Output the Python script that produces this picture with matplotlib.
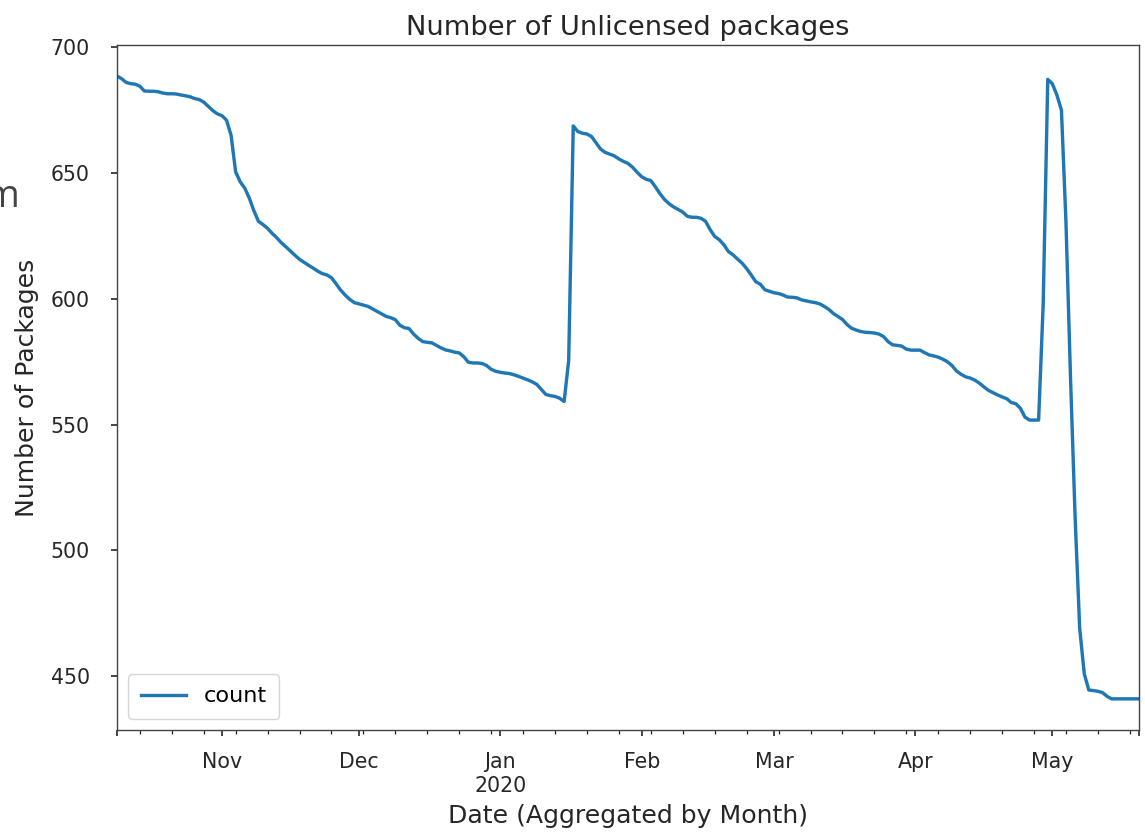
import matplotlib
matplotlib.use("Agg")
import matplotlib.pyplot as plt
import matplotlib.dates as mdates
import numpy as np
import pandas as pd

# Daily counts (Oct 9 2019 .. May 20 2020)
oct_counts = [688.5, 687.5, 686.0, 685.5, 685.3, 684.5, 682.6, 682.5, 682.5, 682.3,
              681.8, 681.5, 681.5, 681.4, 681.0, 680.7, 680.3, 679.6, 679.2, 678.2,
              676.5, 674.8, 673.5]
nov_counts = [672.8, 671.0, 665.0, 650.5, 646.5, 644.0, 640.0, 635.0, 630.8, 629.5,
              628.0, 626.0, 624.3, 622.3, 620.7, 619.0, 617.3, 615.7, 614.5, 613.3,
              612.2, 611.0, 610.0, 609.5, 608.4, 606.0, 603.5, 601.5, 599.8, 598.5]
dec_counts = [598.0, 597.5, 597.0, 596.0, 595.0, 594.0, 593.0, 592.5, 591.7, 589.5,
              588.5, 588.2, 586.0, 584.3, 583.0, 582.7, 582.5, 581.5, 580.5, 579.7,
              579.3, 578.8, 578.5, 577.0, 574.8, 574.5, 574.5, 574.3, 573.5, 572.0,
              571.2]
jan_counts = [570.8, 570.5, 570.3, 569.8, 569.2, 568.5, 567.8, 567.0, 566.0, 564.0,
              562.0, 561.5, 561.2, 560.5, 559.2, 575.5, 668.7, 666.5, 665.8, 665.5,
              664.5, 662.0, 659.5, 658.2, 657.5, 656.8, 655.6, 654.6, 653.8, 652.3,
              650.3]
feb_counts = [648.5, 647.5, 647.0, 644.5, 641.8, 639.5, 637.8, 636.5, 635.5, 634.5,
              632.8, 632.4, 632.4, 632.0, 630.8, 627.5, 624.8, 623.5, 621.5, 618.8,
              617.5, 615.8, 614.2, 612.0, 609.5, 606.8, 605.8, 603.6, 603.0]
mar_counts = [602.4, 602.1, 601.5, 600.7, 600.6, 600.4, 599.6, 599.2, 598.8, 598.5,
              598.0, 597.0, 595.8, 594.2, 593.0, 591.8, 589.8, 588.3, 587.6, 587.0,
              586.7, 586.6, 586.4, 586.0, 585.0, 583.0, 581.7, 581.5, 581.2, 580.0,
              579.6]
apr_counts = [579.6, 579.6, 578.6, 577.7, 577.3, 576.8, 576.0, 575.0, 573.5, 571.3,
              570.0, 569.0, 568.5, 567.7, 566.5, 565.0, 563.6, 562.7, 561.8, 561.0,
              560.3, 558.8, 558.3, 556.5, 553.0, 551.8, 551.8, 551.8, 598.0, 687.2]
may_counts = [685.5, 681.0, 675.0, 630.0, 568.0, 513.0, 469.0, 451.0, 444.5, 444.3,
              444.0, 443.5, 442.0, 441.0, 441.0, 441.0, 441.0, 441.0, 441.0, 441.0]

counts = oct_counts + nov_counts + dec_counts + jan_counts + feb_counts + mar_counts + apr_counts + may_counts
dates = pd.date_range("2019-10-09", periods=len(counts), freq="D")

month_labels = ["Nov", "Dec", "Jan\n2020", "Feb", "Mar", "Apr", "May"]
month_ticks = pd.to_datetime(["2019-11-01", "2019-12-01", "2020-01-01", "2020-02-01",
                              "2020-03-01", "2020-04-01", "2020-05-01"])
y_ticks = [450, 500, 550, 600, 650, 700]

S = 1.62
plt.rcParams["font.family"] = ["DejaVu Sans"]
fig = plt.figure(figsize=(11.45, 8.34), dpi=100)
ax = fig.add_axes([117/1145, 1-730/834, (1139-117)/1145, (730-45)/834])

ax.plot(dates, counts, color="#1f77b4", lw=1.5*S, label="count")
ax.set_xlim(dates[0], dates[-1])
ax.margins(y=0.05)
ax.set_yticks(y_ticks)

major = [dates[0]] + list(month_ticks) + [dates[-1]]
ax.set_xticks(major)
ax.set_xticklabels([""] + month_labels + [""])
ax.xaxis.set_minor_locator(mdates.WeekdayLocator(byweekday=mdates.MO))

ax.tick_params(axis="both", which="major", labelsize=14.8, length=4.2, width=1.2,
               colors="#262626")
ax.tick_params(axis="y", which="major", pad=15.5)
ax.tick_params(axis="x", which="major", pad=12)
ax.tick_params(axis="both", which="minor", length=2.6, width=0.9, colors="#262626")
for lab in ax.get_xticklabels():
    lab.set_horizontalalignment("center")
for sp in ax.spines.values():
    sp.set_linewidth(1.0)
    sp.set_color("#444444")

ax.set_title("Number of Unlicensed packages", fontsize=19.7, color="#262626", pad=7)
ax.set_xlabel("Date (Aggregated by Month)", fontsize=18.1, color="#262626", labelpad=6)
ax.set_ylabel("Number of Packages", fontsize=18.1, color="#262626", labelpad=8)
ax.legend(loc="lower left", fontsize=16.2, framealpha=0.8, borderpad=0.55)

fig.text(19/1145, 1-207/834, "m", fontsize=27, color="#444444", ha="right",
         va="baseline", family=["Open Sans", "DejaVu Sans"])

fig.savefig("out.png", dpi=100)
